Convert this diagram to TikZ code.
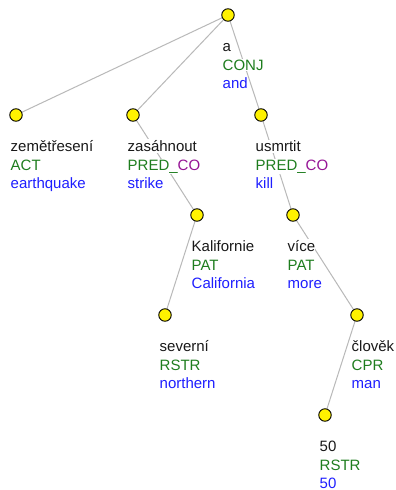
\documentclass[tikz,border=0pt]{standalone}
\usepackage{fontspec}
\setmainfont{Liberation Sans}
\usetikzlibrary{backgrounds}
\definecolor{fgreen}{RGB}{30,125,30}
\definecolor{fblue}{RGB}{30,30,255}
\definecolor{fpurple}{RGB}{150,20,150}
\definecolor{ftext}{RGB}{25,25,25}
\definecolor{edgegrey}{RGB}{185,185,185}
\tikzset{
  dot/.style={circle,draw=black,fill=yellow,line width=0.9pt,minimum size=12.5pt,inner sep=0pt},
  edge/.style={draw=edgegrey,line width=1pt},
  lab/.style={anchor=base west,inner xsep=0pt,inner ysep=1pt,fill=white,font=\fontsize{15}{18}\selectfont},
}
\newcommand\treelab[4]{%
  \node[lab,text=ftext] (#1-w) at ([xshift=-5.5pt,yshift=-36.5pt]#1) {#2};
  \node[lab,text=fgreen] (#1-f) at ([xshift=-5.5pt,yshift=-55pt]#1) {#3};
  \node[lab,text=fblue] (#1-g) at ([xshift=-5.5pt,yshift=-73.5pt]#1) {#4};
}
\begin{document}
\begin{tikzpicture}[x=1pt,y=-1pt]
\useasboundingbox (0,0) rectangle (396,490);
\node[dot] (r) at (228,15) {};
\node[dot] (n1) at (16,115) {};
\node[dot] (n2) at (133,115) {};
\node[dot] (n3) at (261,115) {};
\node[dot] (n4) at (197,215) {};
\node[dot] (n5) at (293,215) {};
\node[dot] (n6) at (165,315) {};
\node[dot] (n7) at (357,315) {};
\node[dot] (n8) at (325,415) {};
\begin{scope}[on background layer]
\fill[white] (0,0) rectangle (396,490);
\draw[edge] (r.center) -- (n1.center);
\draw[edge] (r.center) -- (n2.center);
\draw[edge] (r.center) -- (n3.center);
\draw[edge] (n2.center) -- (n4.center);
\draw[edge] (n4.center) -- (n6.center);
\draw[edge] (n3.center) -- (n5.center);
\draw[edge] (n5.center) -- (n7.center);
\draw[edge] (n7.center) -- (n8.center);
\end{scope}
\treelab{r}{a}{CONJ}{and}
\treelab{n1}{zemětřesení}{ACT}{earthquake}
\treelab{n2}{zasáhnout}{PRED\_\textcolor{fpurple}{CO}}{strike}
\treelab{n3}{usmrtit}{PRED\_\textcolor{fpurple}{CO}}{kill}
\treelab{n4}{Kalifornie}{PAT}{California}
\treelab{n5}{více}{PAT}{more}
\treelab{n6}{severní}{RSTR}{northern}
\treelab{n7}{člověk}{CPR}{man}
\treelab{n8}{50}{RSTR}{50}
\end{tikzpicture}
\end{document}
